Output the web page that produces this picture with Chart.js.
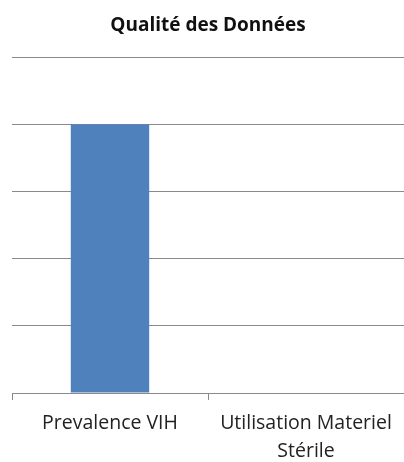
<!DOCTYPE html>
<html>
<head>
<meta charset="utf-8">
<script src="https://cdn.jsdelivr.net/npm/chart.js@4/dist/chart.umd.min.js"></script>
<style>
  html, body { margin: 0; padding: 0; background: #ffffff; }
  #wrap { width: 404px; height: 462px; position: relative; }
</style>
</head>
<body>
<div id="wrap"><canvas id="chart"></canvas></div>
<script>
// Category labels (multi-line labels as arrays of lines)
const categories = [["Prevalence VIH"], ["Utilisation Materiel", "Stérile"]];
// Series values
const seriesValues = [4, 0];
// Value axis range
const yMin = 0;
const yMax = 5;
const yStep = 1;

const gridColor = "#8a8a8a";

new Chart(document.getElementById("chart"), {
  type: "bar",
  data: {
    labels: categories,
    datasets: [{
      label: "Qualité des Données",
      data: seriesValues,
      backgroundColor: "#4f81bd",
      borderWidth: 0,
      categoryPercentage: 1.0,
      barPercentage: 0.4
    }]
  },
  options: {
    responsive: true,
    maintainAspectRatio: false,
    animation: false,
    layout: { padding: { left: 12, right: 0, top: 0, bottom: 0 } },
    plugins: {
      legend: { display: false },
      tooltip: { enabled: false },
      title: {
        display: true,
        text: "Qualité des Données",
        color: "#111111",
        font: { family: "Open Sans", size: 19, weight: "bold", lineHeight: 1.2 },
        padding: { top: 14, bottom: 20.2 }
      }
    },
    scales: {
      x: {
        grid: {
          drawOnChartArea: false,
          drawTicks: true,
          tickLength: 7,
          color: gridColor,
          lineWidth: 1
        },
        border: { display: true, color: gridColor, width: 1 },
        ticks: {
          color: "#222222",
          font: { family: "Open Sans", size: 19.5, lineHeight: 1.4 },
          padding: 10,
          maxRotation: 0,
          autoSkip: false
        },
        afterFit: (scale) => { scale.height = 69; }
      },
      y: {
        min: yMin,
        max: yMax,
        ticks: { display: false, stepSize: yStep },
        grid: { drawTicks: false, color: gridColor, lineWidth: 1 },
        border: { display: false },
        afterFit: (scale) => { scale.width = 0; }
      }
    }
  }
});
</script>
</body>
</html>
